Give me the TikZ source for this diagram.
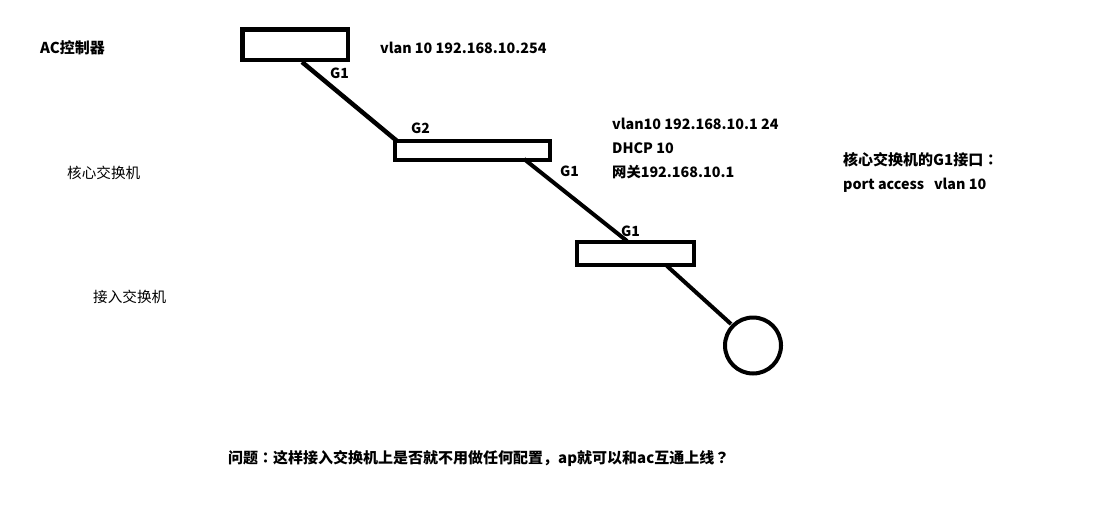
\documentclass[tikz,border=0pt]{standalone}
\usepackage{fontspec}
\setmainfont{Noto Sans CJK SC}
\newfontfamily\tcfont{Noto Sans CJK TC}
\newcommand{\ccolon}{{\tcfont ：}}
\newcommand{\cquest}{{\tcfont ？}}
\begin{document}
\begin{tikzpicture}[x=1pt,y=-1pt,
  devbox/.style={draw=black,line width=4.5pt,inner sep=0pt},
  link/.style={draw=black,line width=4.5pt},
  lbl/.style={anchor=west,inner sep=0pt,font=\fontsize{14.3}{16}\selectfont\bfseries},
  lblc/.style={anchor=west,inner sep=0pt,font=\fontsize{15}{16}\selectfont\bfseries},
  lblr/.style={anchor=west,inner sep=0pt,font=\fontsize{14.6}{16}\selectfont},
  port/.style={anchor=west,inner sep=0pt,font=\fontsize{14}{16}\selectfont\bfseries}]
\useasboundingbox[fill=white] (0,0) rectangle (1097,504);
% anchors for links
\coordinate (ac1) at (302,62);
\coordinate (core2) at (397,141);
\coordinate (core1) at (524,159);
\coordinate (acc1) at (627,241);
\coordinate (acc2) at (667,266);
\coordinate (ap1) at (731,324);
\draw[link] (ac1) -- (core2);
\draw[link,line width=4pt] (core1) -- (acc1);
\draw[link,line width=4pt] (acc2) -- (ap1);
% devices
\node[devbox,minimum width=105.5pt,minimum height=30.5pt] (ac) at (295.2,44.8) {};
\node[devbox,minimum width=155pt,minimum height=19pt] (core) at (472.5,150.5) {};
\node[devbox,minimum width=117pt,minimum height=23pt] (acc) at (635.5,253.5) {};
\node[draw=black,line width=4pt,circle,minimum size=56pt,inner sep=0pt] (ap) at (753,345.5) {};
% labels
\node[lblc] (tac) at (40,48) {AC控制器};
\node[lbl] (tacip) at (380,48) {vlan 10 192.168.10.254};
\node[port] (pg1a) at (330,73) {G1};
\node[port] (pg2) at (411,128) {G2};
\node[port] (pg1b) at (560,171) {G1};
\node[port] (pg1c) at (621,231) {G1};
\node[lbl] (t1) at (612,124) {vlan10 192.168.10.1 24};
\node[lbl] (t2) at (612,148) {DHCP 10};
\node[lbl] (t3) at (612,172) {网关192.168.10.1};
\node[lblc] (t4) at (843,160) {核心交换机的G1接口\ccolon};
\node[lbl] (t5) at (843,185) {port access\ \ \ vlan 10};
\node[lblr] (tcore) at (67,173) {核心交换机};
\node[lblr] (tacc) at (93,297) {接入交换机};
\node[lblc] (q) at (228,459) {问题\ccolon 这样接入交换机上是否就不用做任何配置，ap就可以和ac互通上线\cquest};
\end{tikzpicture}
\end{document}
